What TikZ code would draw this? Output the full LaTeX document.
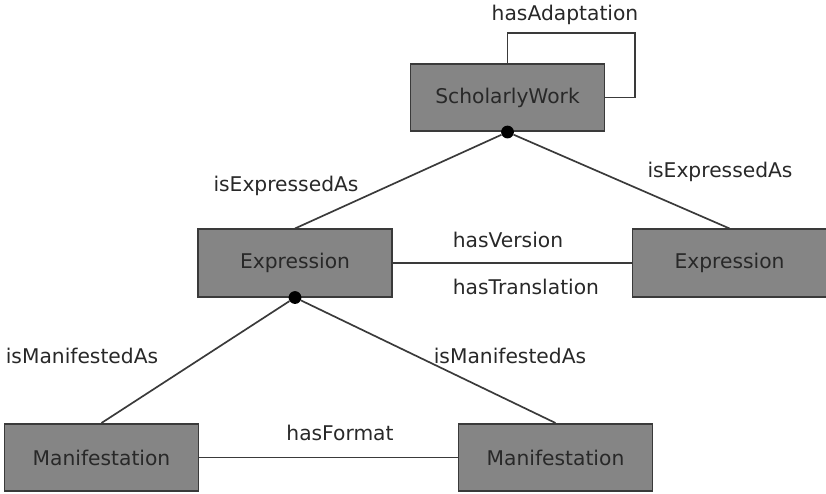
\documentclass[tikz,border=0pt]{standalone}
\usepackage{fontspec}
\setmainfont{DejaVu Sans}
\usetikzlibrary{positioning}
\definecolor{boxgray}{RGB}{133,133,133}
\definecolor{linegray}{RGB}{58,58,58}
\definecolor{textgray}{RGB}{40,40,40}

\begin{document}
\begin{tikzpicture}[x=0.025cm,y=-0.025cm,
    cls/.style={draw=linegray, line width=1.3pt, fill=boxgray, text=textgray,
      minimum width=4.85cm, minimum height=1.68cm, inner sep=0pt,
      font=\fontsize{14.4}{17}\selectfont},
    rel/.style={text=textgray, inner sep=0pt, font=\fontsize{14.4}{17}\selectfont},
    link/.style={draw=linegray, line width=1.2pt},
    hub/.style={circle, fill=black, minimum size=0.32cm, inner sep=0pt}]
    \useasboundingbox (0,0) rectangle (826,493);
            % classes
            \node[cls] (work) at (507.5,97.5) {ScholarlyWork};
            \node[cls] (exprA) at (295,263) {Expression};
            \node[cls] (exprB) at (729.5,263) {Expression};
            \node[cls] (maniA) at (101.5,457.5) {Manifestation};
            \node[cls] (maniB) at (555.5,457.5) {Manifestation};
            \node[hub] (workhub) at (work.south) {};
            \node[hub] (exprhub) at (exprA.south) {};
            \coordinate (loopA) at (507.5,33);
            \coordinate (loopB) at (635,33);
            \coordinate (loopC) at (635,97.5);
            % links
            \draw[link] (work.north) -- (loopA) -- (loopB) -- (loopC) -- (work.east);
            \draw[link] (workhub) -- (exprA.north);
            \draw[link] (workhub) -- (exprB.north);
            \draw[link] (exprA.east) -- (exprB.west);
            \draw[link] (exprhub) -- (maniA.north);
            \draw[link] (exprhub) -- (maniB.north);
            \draw[link] (maniA.east) -- (maniB.west);
            % labels
            \node[rel] (adapt) at (565,15) {hasAdaptation};
            \node[rel] (exprlabA) at (286,186) {isExpressedAs};
            \node[rel] (exprlabB) at (720,172) {isExpressedAs};
            \node[rel] (version) at (508,240) {hasVersion};
            \node[rel, anchor=west] (transl) at (version.west |- 0,287) {hasTranslation};
            \node[rel] (format) at (340,433) {hasFormat};
            \node[rel] (manilabA) at (82,356) {isManifestedAs};
            \node[rel] (manilabB) at (510,356) {isManifestedAs};
\end{tikzpicture}
\end{document}
